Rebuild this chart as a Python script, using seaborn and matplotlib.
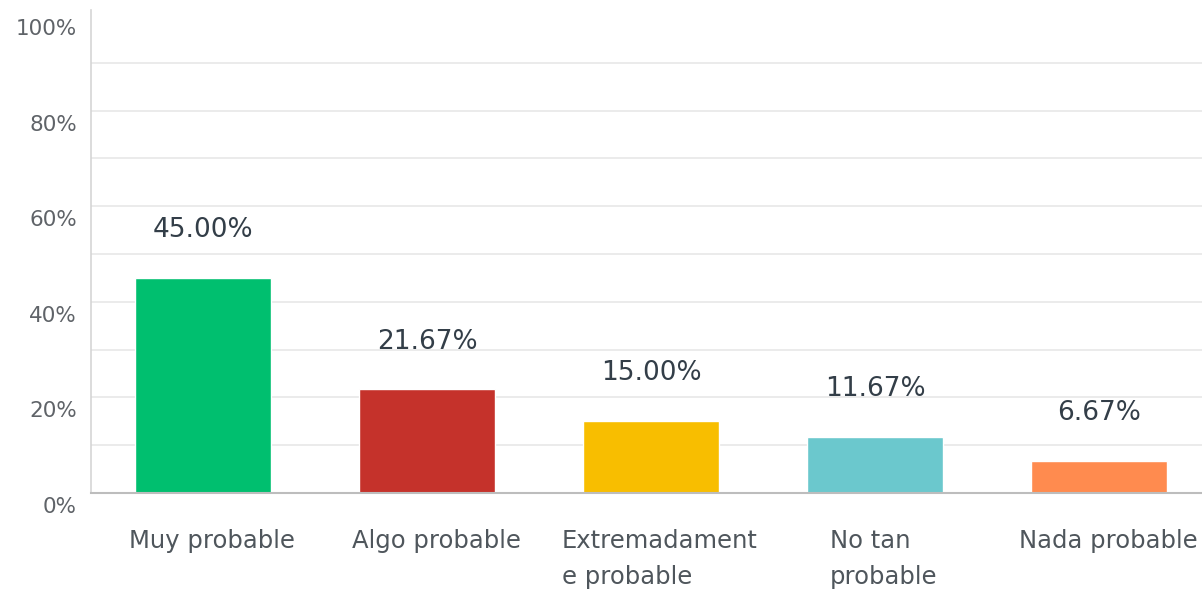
import matplotlib
matplotlib.use("Agg")
import matplotlib.pyplot as plt
import matplotlib.transforms as mtransforms
import seaborn as sns
import pandas as pd

categories = ["Muy probable", "Algo probable", "Extremadament\ne probable", "No tan\nprobable", "Nada probable"]
values = [45.00, 21.67, 15.00, 11.67, 6.67]
value_labels = ["45.00%", "21.67%", "15.00%", "11.67%", "6.67%"]
colors = ["#00BF6F", "#C5322B", "#F8BE00", "#6BC8CD", "#FF8B4F"]
yticks = [0, 20, 40, 60, 80, 100]
ytick_labels = ["0%", "20%", "40%", "60%", "80%", "100%"]

sns.set_theme(style="white")
plt.rcParams["font.family"] = ["DejaVu Sans"]

fig = plt.figure(figsize=(12.02, 5.91), dpi=100)
ax = fig.add_axes([91 / 1202, 1 - 493 / 591, 1 - 91 / 1202, (493 - 15) / 591])

df = pd.DataFrame({"cat": categories, "val": values})
sns.barplot(data=df, x="cat", y="val", hue="cat", palette=colors, legend=False,
            width=0.61, saturation=1, ax=ax)

ax.set_xlim(-0.5, 4.46)
ax.set_ylim(0, 100)
for g in range(10, 100, 10):
    ax.axhline(g, color="#e8e8e8", lw=1.2, zorder=0)

ax.set_yticks(yticks)
ax.set_yticklabels(ytick_labels, fontsize=15.5, color="#5f6368")
ax.tick_params(axis="y", length=0, pad=10)
for lab in ax.get_yticklabels():
    lab.set_transform(lab.get_transform() + mtransforms.ScaledTranslation(0, -12 / 100, fig.dpi_scale_trans))

ax.tick_params(axis="x", length=0, pad=26)
for lab in ax.get_xticklabels():
    lab.set_fontsize(17.5)
    lab.set_color("#4f565c")
    lab.set_multialignment("left")
    lab.set_linespacing(1.6)
    lab.set_transform(lab.get_transform() + mtransforms.ScaledTranslation(9 / 100, 0, fig.dpi_scale_trans))

ax.set_xlabel("")
ax.set_ylabel("")

for i, (v, t) in enumerate(zip(values, value_labels)):
    ax.annotate(t, (i, v), xytext=(0, 34.5), textcoords="offset points",
                ha="center", va="center", fontsize=19, color="#333e48")

for s in ["top", "right"]:
    ax.spines[s].set_visible(False)
ax.spines["left"].set_color("#d5d5d5")
ax.spines["left"].set_linewidth(1.2)
ax.spines["bottom"].set_color("#bdbdbd")
ax.spines["bottom"].set_linewidth(1.5)
ax.spines["left"].set_bounds(0, 101)

fig.savefig("out.png", dpi=100)
